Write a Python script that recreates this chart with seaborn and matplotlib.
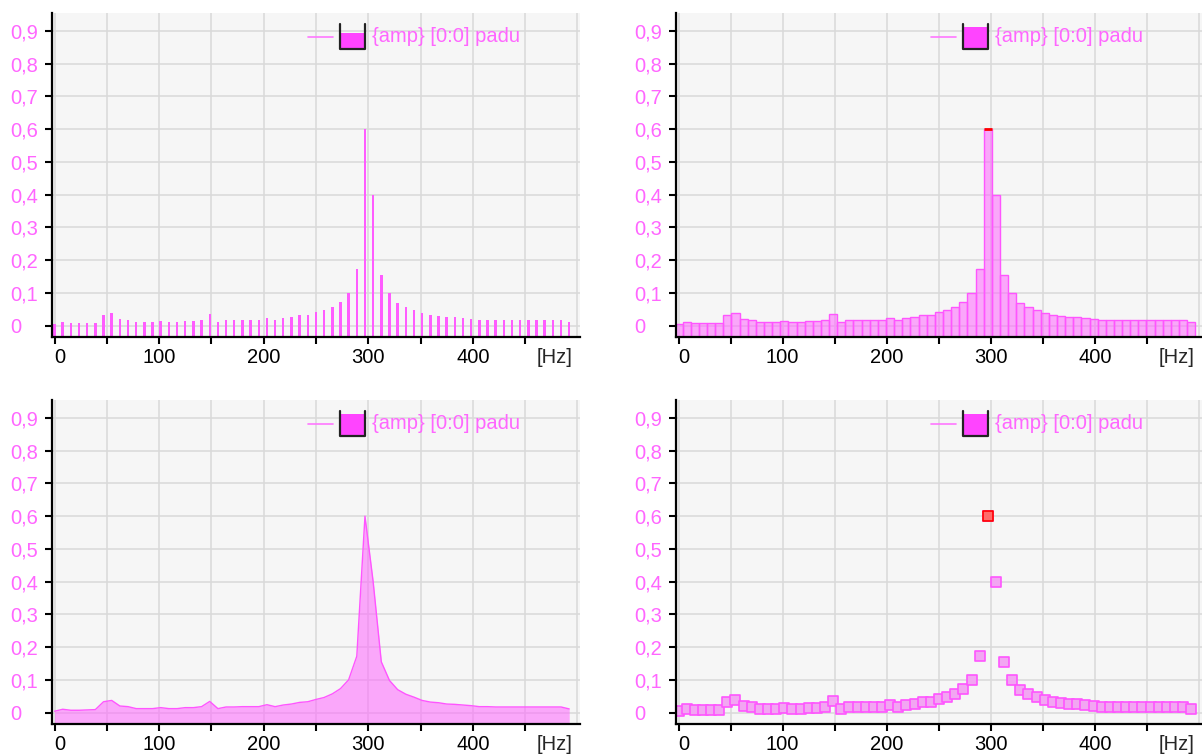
import numpy as np
import pandas as pd
import matplotlib
matplotlib.use("Agg")
import matplotlib.pyplot as plt
from matplotlib.patches import Rectangle
import seaborn as sns

# spectrum bins, 1000 Hz / 128 points
bin_hz = 7.8125
amp = [0.004, 0.010, 0.007, 0.007, 0.008, 0.009, 0.033, 0.037, 0.020, 0.018,
       0.012, 0.012, 0.012, 0.015, 0.012, 0.012, 0.015, 0.015, 0.018, 0.034,
       0.012, 0.017, 0.017, 0.018, 0.018, 0.018, 0.024, 0.018, 0.023, 0.026,
       0.031, 0.033, 0.040, 0.046, 0.057, 0.073, 0.100, 0.172, 0.600, 0.400,
       0.155, 0.098, 0.070, 0.056, 0.047, 0.037, 0.032, 0.030, 0.026, 0.025,
       0.023, 0.021, 0.018, 0.018, 0.017, 0.017, 0.017, 0.017, 0.017, 0.017,
       0.017, 0.017, 0.017, 0.011]
freq = np.arange(len(amp)) * bin_hz

y_ticks = [0.0, 0.1, 0.2, 0.3, 0.4, 0.5, 0.6, 0.7, 0.8, 0.9]
y_labels = ["0", "0,1", "0,2", "0,3", "0,4", "0,5", "0,6", "0,7", "0,8", "0,9"]
x_ticks = [0, 50, 100, 150, 200, 250, 300, 350, 400, 450]
x_labels = ["0", "", "100", "", "200", "", "300", "", "400", ""]
legend_text = "{amp} [0:0] padu"
unit_text = "[Hz]"

MAG = "#FF55FF"
LABEL_MAG = "#FF66FF"
FILL = (1.0, 0.4, 1.0, 0.55)
MARK_FILL = "#F2A6F2"

df = pd.DataFrame({"freq": freq, "amp": amp})
peak = df.loc[df["amp"].idxmax()]

ymin, ymax = -0.035, 0.955
xmin, xmax = -2.4, 502.5

sns.set_style("white")
plt.rcParams["font.family"] = ["Liberation Sans", "DejaVu Sans"]

fig = plt.figure(figsize=(12.02, 7.56), dpi=100)
W, H = 1202, 756
tl = fig.add_axes([52 / W, 1 - 337 / H, 528 / W, 324 / H])
tr = fig.add_axes([676 / W, 1 - 337 / H, 526 / W, 324 / H])
bl = fig.add_axes([52 / W, 1 - 724 / H, 528 / W, 324 / H])
br = fig.add_axes([676 / W, 1 - 724 / H, 526 / W, 324 / H])

# top left: thin stems
sns.barplot(data=df, x="freq", y="amp", native_scale=True, width=0.3,
            color="#FF5CFF", saturation=1, errorbar=None, linewidth=0, ax=tl)
for p in tl.patches:
    p.set_y(ymin)
    p.set_height(p.get_height() - ymin)

# top right: histogram style bars
sns.barplot(data=df, x="freq", y="amp", native_scale=True, width=1.0,
            color=MAG, saturation=1, errorbar=None, ax=tr)
for p in tr.patches:
    p.set_y(ymin)
    p.set_height(p.get_height() - ymin)
    p.set_facecolor(FILL)
    p.set_edgecolor(MAG)
    p.set_linewidth(1)
tr.hlines(peak["amp"], peak["freq"] - bin_hz / 2, peak["freq"] + bin_hz / 2,
          color="red", lw=2, zorder=5)

# bottom left: area
bl.fill_between(df["freq"], df["amp"], ymin, color=FILL, lw=0)
sns.lineplot(data=df, x="freq", y="amp", color=MAG, lw=1, ax=bl)

# bottom right: square markers
sns.scatterplot(data=df, x="freq", y="amp", marker="s", s=55, color=MARK_FILL,
                edgecolor=MAG, linewidth=1.2, ax=br)
sns.scatterplot(data=df[df["amp"] == df["amp"].max()], x="freq", y="amp",
                marker="s", s=55, color="#FF6A6A", edgecolor="red",
                linewidth=1.2, ax=br)


def add_legend(ax, fill_top):
    ax.plot([0.485, 0.532], [0.926, 0.926], transform=ax.transAxes,
            color="#FF77FF", lw=1.2)
    ax.add_patch(Rectangle((0.546, 0.889), 0.047, fill_top - 0.889,
                           transform=ax.transAxes, facecolor="#FF44FF",
                           edgecolor="none", zorder=4))
    ax.plot([0.546, 0.546, 0.593, 0.593], [0.966, 0.888, 0.888, 0.966],
            transform=ax.transAxes, color="#222222", lw=1.6, zorder=5)
    ax.text(0.606, 0.926, legend_text, transform=ax.transAxes,
            color=LABEL_MAG, fontsize=14.5, va="center", ha="left")


def style(ax):
    ax.set_xlim(xmin, xmax)
    ax.set_ylim(ymin, ymax)
    ax.set_facecolor("#F6F6F6")
    ax.set_xlabel("")
    ax.set_ylabel("")
    ax.set_xticks(x_ticks)
    ax.set_xticklabels(x_labels)
    ax.set_xticks([500], minor=True)
    ax.set_yticks(y_ticks)
    ax.set_yticklabels(y_labels)
    ax.grid(True, which="both", color="#D9D9D9", lw=1.1)
    ax.set_axisbelow(True)
    for side in ["top", "right"]:
        ax.spines[side].set_visible(False)
    for side in ["left", "bottom"]:
        ax.spines[side].set_color("black")
        ax.spines[side].set_linewidth(1.6)
    ax.tick_params(axis="y", which="major", left=True, color="black",
                   labelcolor=LABEL_MAG, length=5, width=1.5, pad=25,
                   labelsize=14.5)
    ax.tick_params(axis="x", which="major", bottom=True, color="black",
                   labelcolor="black", length=5, width=1.5, pad=3,
                   labelsize=14.5)
    ax.tick_params(axis="x", which="minor", length=0)
    for lab in ax.get_yticklabels():
        lab.set_ha("left")
    ax.get_xticklabels()[0].set_ha("left")
    ax.annotate(unit_text, xy=(1, 0), xycoords="axes fraction",
                xytext=(-7, -11), textcoords="offset pixels",
                ha="right", va="top", fontsize=14.5)


for ax, fill_top in [(tl, 0.938), (tr, 0.957), (bl, 0.957), (br, 0.957)]:
    style(ax)
    add_legend(ax, fill_top)

fig.savefig("out.png", dpi=100)
